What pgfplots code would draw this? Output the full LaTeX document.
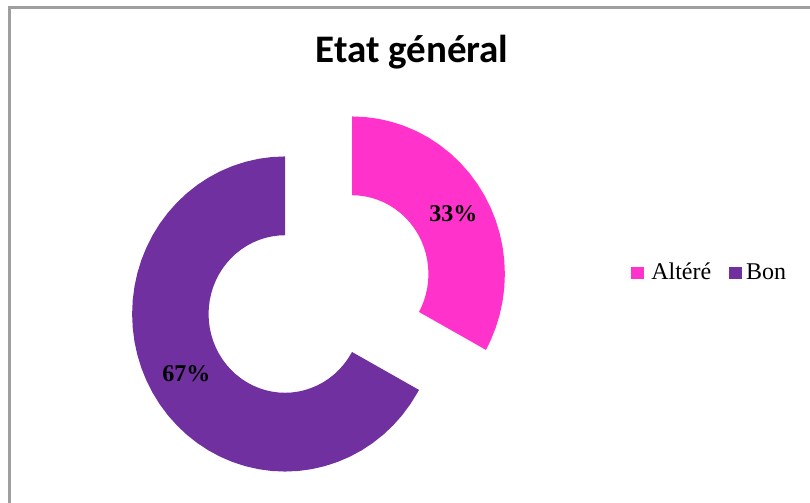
\documentclass[border=0pt]{standalone}
\usepackage{fontspec}
\setmainfont{Liberation Serif}
\newfontfamily\calibri{Carlito}
\usepackage{pgfplots}
\pgfplotsset{compat=1.18}
\definecolor{pinkc}{HTML}{FF33CC}
\definecolor{purplec}{HTML}{7030A0}
\begin{document}
\begin{tikzpicture}
\path[fill=white] (0,0) rectangle (405pt,-251.5pt);
\draw[color=gray!75, line width=1.5pt] (4.75pt,-251.5pt) -- (4.75pt,-3.5pt) -- (405pt,-3.5pt);
\node[anchor=base, font=\calibri\bfseries\fontsize{19.5}{23}\selectfont, inner sep=0pt] at (206pt,-31pt) {Etat général};
% Altéré (33%), exploded
\begin{axis}[at={(176pt,-137pt)}, anchor=origin, x=0.49pt, y=0.505pt, hide axis,
  xmin=-170, xmax=170, ymin=-170, ymax=170, clip=false]
\addplot[data cs=polar, fill=pinkc, draw=none] coordinates {
(-28.8,156) (-25,156) (-20,156) (-15,156) (-10,156) (-5,156) (0,156) (5,156) (10,156) (15,156) (20,156) (25,156) (30,156) (35,156) (40,156) (45,156) (50,156) (55,156) (60,156) (65,156) (70,156) (75,156) (80,156) (85,156) (90,156)
(90,78) (85,78) (80,78) (75,78) (70,78) (65,78) (60,78) (55,78) (50,78) (45,78) (40,78) (35,78) (30,78) (25,78) (20,78) (15,78) (10,78) (5,78) (0,78) (-5,78) (-10,78) (-15,78) (-20,78) (-25,78) (-28.8,78)
};
\node[font=\bfseries\fontsize{12}{14}\selectfont] at (axis cs:103.4,59.4) {33\%};
\end{axis}
% Bon (67%)
\begin{axis}[at={(142.5pt,-157pt)}, anchor=origin, x=0.49pt, y=0.505pt, hide axis,
  xmin=-170, xmax=170, ymin=-170, ymax=170, clip=false,
  legend columns=2,
  legend style={draw=none, fill=none, inner sep=0pt, at={(1.538,0.619)}, anchor=west,
    font=\fontsize{12}{14}\selectfont,
    /tikz/every even column/.append style={column sep=7pt}},
  legend image code/.code={\path[#1,draw=none] (0pt,-3pt) rectangle (6.5pt,3pt);}]
\addlegendimage{fill=pinkc}
\addlegendentry{\hspace{1.5pt}Altéré}
\addplot[data cs=polar, fill=purplec, draw=none] coordinates {
(90,156) (95,156) (100,156) (105,156) (110,156) (115,156) (120,156) (125,156) (130,156) (135,156) (140,156) (145,156) (150,156) (155,156) (160,156) (165,156) (170,156) (175,156) (180,156) (185,156) (190,156) (195,156) (200,156) (205,156) (210,156) (215,156) (220,156) (225,156) (230,156) (235,156) (240,156) (245,156) (250,156) (255,156) (260,156) (265,156) (270,156) (275,156) (280,156) (285,156) (290,156) (295,156) (300,156) (305,156) (310,156) (315,156) (320,156) (325,156) (330,156) (331.2,156)
(331.2,78) (330,78) (325,78) (320,78) (315,78) (310,78) (305,78) (300,78) (295,78) (290,78) (285,78) (280,78) (275,78) (270,78) (265,78) (260,78) (255,78) (250,78) (245,78) (240,78) (235,78) (230,78) (225,78) (220,78) (215,78) (210,78) (205,78) (200,78) (195,78) (190,78) (185,78) (180,78) (175,78) (170,78) (165,78) (160,78) (155,78) (150,78) (145,78) (140,78) (135,78) (130,78) (125,78) (120,78) (115,78) (110,78) (105,78) (100,78) (95,78) (90,78)
};
\addlegendentry{Bon}
\node[font=\bfseries\fontsize{12}{14}\selectfont] at (axis cs:-100.7,-59.4) {67\%};
\end{axis}
\pgfresetboundingbox
\useasboundingbox (0,0) rectangle (405pt,-251.5pt);
\end{tikzpicture}
\end{document}
